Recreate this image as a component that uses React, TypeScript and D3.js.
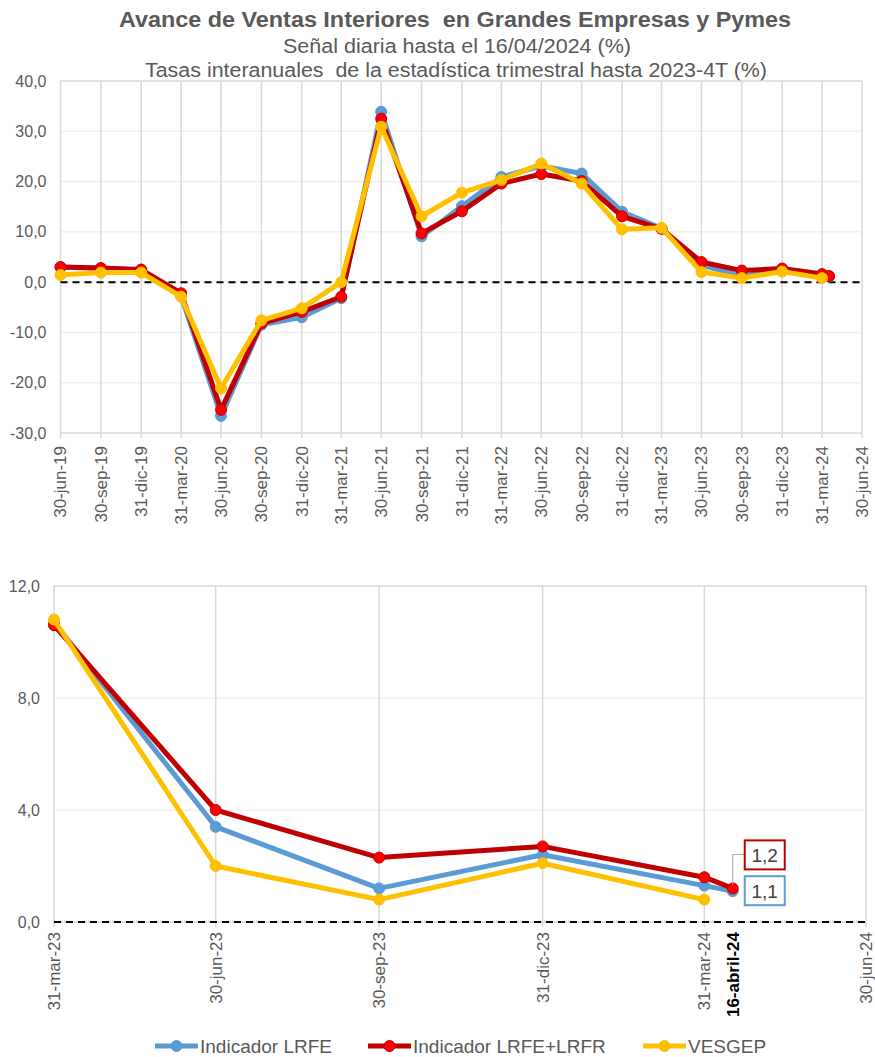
import React, { useRef, useEffect } from "react";
import * as d3 from "d3";

// fechas de fin de trimestre (eje superior) y señal diaria
const quarterLabels = [
  "30-jun-19", "30-sep-19", "31-dic-19", "31-mar-20", "30-jun-20", "30-sep-20",
  "31-dic-20", "31-mar-21", "30-jun-21", "30-sep-21", "31-dic-21", "31-mar-22",
  "30-jun-22", "30-sep-22", "31-dic-22", "31-mar-23", "30-jun-23", "30-sep-23",
  "31-dic-23", "31-mar-24", "30-jun-24",
];
const dailyLabel = "16-abril-24";
const seriesDates = [...quarterLabels.slice(0, 20), dailyLabel];

const lrfe = [
  3.0, 2.7, 2.4, -2.8, -26.6, -8.5, -7.0, -3.2, 33.9, 9.1, 15.1, 20.9, 23.1,
  21.6, 14.0, 10.7, 3.4, 1.2, 2.4, 1.3, 1.1,
];
const lrfeLrfr = [
  3.0, 2.8, 2.5, -2.2, -25.4, -8.2, -5.9, -2.9, 32.5, 9.7, 14.1, 19.6, 21.5,
  20.1, 13.1, 10.6, 4.0, 2.3, 2.7, 1.6, 1.2,
];
const vesgep = [
  1.4, 1.9, 1.9, -2.9, -21.1, -7.6, -5.2, 0.0, 30.9, 13.1, 17.8, 20.3, 23.6,
  19.6, 10.5, 10.8, 2.0, 0.8, 2.1, 0.8,
];

const topYTicks = [-30, -20, -10, 0, 10, 20, 30, 40];
const bottomYTicks = [0, 4, 8, 12];
const bottomTickLabels = [
  "31-mar-23", "30-jun-23", "30-sep-23", "31-dic-23", "31-mar-24", dailyLabel, "30-jun-24",
];

const seriesNames = ["Indicador LRFE", "Indicador LRFE+LRFR", "VESGEP"];

const months: Record<string, number> = {
  ene: 0, feb: 1, mar: 2, abr: 3, abril: 3, may: 4, jun: 5,
  jul: 6, ago: 7, sep: 8, oct: 9, nov: 10, dic: 11,
};
const parseDay = (s: string) => {
  const [d, m, y] = s.split("-");
  return new Date(2000 + +y, months[m], +d);
};
const fmt = (v: number) => v.toFixed(1).replace(".", ",");

const BLUE = "#5B9BD5";
const RED = "#C00000";
const RED_FILL = "#FF0000";
const YELLOW = "#FFC000";
const GREY_TXT = "#595959";
const FONT = "'Liberation Sans', Arial, sans-serif";

const styles = [
  { values: lrfe, stroke: BLUE, fill: BLUE },
  { values: lrfeLrfr, stroke: RED, fill: RED_FILL },
  { values: vesgep, stroke: YELLOW, fill: YELLOW },
];

const App: React.FC = () => {
  const svgRef = useRef<SVGSVGElement | null>(null);

  useEffect(() => {
    const width = 875;
    const height = 1057;
    const svg = d3.select(svgRef.current).attr("width", width).attr("height", height);
    svg.selectAll("*").remove();
    svg.style("font-family", FONT);

    // ---------- titles ----------
    svg.append("text")
      .attr("x", 455).attr("y", 27)
      .attr("text-anchor", "middle")
      .style("white-space", "pre")
      .style("font-size", "22px").style("font-weight", "bold").style("fill", GREY_TXT)
      .attr("textLength", 672).attr("lengthAdjust", "spacingAndGlyphs")
      .text("Avance de Ventas Interiores  en Grandes Empresas y Pymes");
    svg.append("text")
      .attr("x", 457).attr("y", 53)
      .attr("text-anchor", "middle")
      .style("font-size", "20px").style("fill", GREY_TXT)
      .attr("textLength", 348).attr("lengthAdjust", "spacingAndGlyphs")
      .text("Señal diaria hasta el 16/04/2024 (%)");
    svg.append("text")
      .attr("x", 456).attr("y", 77)
      .attr("text-anchor", "middle")
      .style("white-space", "pre")
      .style("font-size", "20px").style("fill", GREY_TXT)
      .attr("textLength", 622).attr("lengthAdjust", "spacingAndGlyphs")
      .text("Tasas interanuales  de la estadística trimestral hasta 2023-4T (%)");

    // ---------- generic panel ----------
    const drawPanel = (opts: {
      left: number; right: number; top: number; bottom: number;
      xDomain: [Date, Date]; yDomain: [number, number]; yTicks: number[];
      tickLabels: string[]; dates: string[]; offset: number;
      labelGap: number; strokeW: number; r: number;
    }) => {
      const x = d3.scaleTime().domain(opts.xDomain).range([opts.left, opts.right]);
      const y = d3.scaleLinear().domain(opts.yDomain).range([opts.bottom, opts.top]);
      const g = svg.append("g");

      // horizontal grid
      g.selectAll(".hgrid")
        .data(opts.yTicks.filter((t) => t !== opts.yDomain[0] && t !== opts.yDomain[1]))
        .enter().append("line")
        .attr("x1", opts.left).attr("x2", opts.right)
        .attr("y1", (d) => y(d)).attr("y2", (d) => y(d))
        .attr("stroke", "#F0F0F0").attr("stroke-width", 1.5);

      // vertical grid (quarters only)
      const gridLabels = opts.tickLabels.filter((l) => l !== dailyLabel);
      g.selectAll(".vgrid")
        .data(gridLabels)
        .enter().append("line")
        .attr("x1", (d) => x(parseDay(d))).attr("x2", (d) => x(parseDay(d)))
        .attr("y1", opts.top).attr("y2", opts.bottom + 5)
        .attr("stroke", "#D9D9D9").attr("stroke-width", 1.5);

      // border lines
      g.append("line")
        .attr("x1", opts.left).attr("x2", opts.right)
        .attr("y1", opts.top).attr("y2", opts.top)
        .attr("stroke", "#D9D9D9").attr("stroke-width", 1.5);
      g.append("line")
        .attr("x1", opts.left).attr("x2", opts.right)
        .attr("y1", opts.bottom).attr("y2", opts.bottom)
        .attr("stroke", "#D9D9D9").attr("stroke-width", 1.5);

      // y labels
      g.selectAll(".ylab")
        .data(opts.yTicks)
        .enter().append("text")
        .attr("x", opts.left - 14).attr("y", (d) => y(d))
        .attr("dy", "0.35em").attr("text-anchor", "end")
        .style("font-size", "16px").style("fill", GREY_TXT)
        .text((d) => fmt(d));

      // x labels
      g.selectAll(".xlab")
        .data(opts.tickLabels)
        .enter().append("text")
        .attr("transform", (d) => `translate(${x(parseDay(d))},${opts.bottom + opts.labelGap}) rotate(-90)`)
        .attr("dy", "0.35em").attr("text-anchor", "end")
        .style("font-size", "17px")
        .style("font-weight", (d) => (d === dailyLabel ? "bold" : "normal"))
        .style("fill", (d) => (d === dailyLabel ? "#000" : GREY_TXT))
        .text((d) => d);

      // zero line
      g.append("line")
        .attr("x1", opts.left).attr("x2", opts.right)
        .attr("y1", y(0)).attr("y2", y(0))
        .attr("stroke", "#000").attr("stroke-width", 2)
        .attr("stroke-dasharray", "7,5");

      // series
      styles.forEach((s) => {
        const pts = s.values
          .map((v, i) => ({ d: parseDay(opts.dates[i]), v }))
          .slice(opts.offset);
        const line = d3.line<{ d: Date; v: number }>().x((p) => x(p.d)).y((p) => y(p.v));
        g.append("path").datum(pts)
          .attr("fill", "none").attr("stroke", s.stroke)
          .attr("stroke-width", opts.strokeW).attr("stroke-linejoin", "round")
          .attr("d", line);
        g.selectAll(null).data(pts).enter().append("circle")
          .attr("cx", (p) => x(p.d)).attr("cy", (p) => y(p.v))
          .attr("r", opts.r)
          .attr("fill", s.fill).attr("stroke", s.stroke).attr("stroke-width", 1);
      });

      return { x, y };
    };

    drawPanel({
      left: 60.5, right: 862, top: 81, bottom: 433,
      xDomain: [parseDay("30-jun-19"), parseDay("30-jun-24")],
      yDomain: [-30, 40], yTicks: topYTicks,
      tickLabels: quarterLabels, dates: seriesDates, offset: 0,
      labelGap: 13, strokeW: 5, r: 5.5,
    });

    const bottom = drawPanel({
      left: 54, right: 866, top: 586, bottom: 922,
      xDomain: [parseDay("31-mar-23"), parseDay("30-jun-24")],
      yDomain: [0, 12], yTicks: bottomYTicks,
      tickLabels: bottomTickLabels, dates: seriesDates, offset: 15,
      labelGap: 10, strokeW: 5, r: 5.5,
    });

    // ---------- annotations on last daily values ----------
    const last = seriesDates.length - 1;
    const px = bottom.x(parseDay(dailyLabel));
    const redY = bottom.y(lrfeLrfr[last]);
    const blueY = bottom.y(lrfe[last]);
    const boxX = px + 12;
    const boxW = 40;

    svg.append("polyline")
      .attr("points", `${px},${redY - 4} ${px},${redY - 34} ${boxX},${redY - 34}`)
      .attr("fill", "none").attr("stroke", "#A6A6A6").attr("stroke-width", 1);

    const labels = [
      { v: lrfeLrfr[last], yTop: redY - 48, color: RED },
      { v: lrfe[last], yTop: blueY - 15, color: BLUE },
    ];
    labels.forEach((l) => {
      svg.append("rect")
        .attr("x", boxX).attr("y", l.yTop).attr("width", boxW).attr("height", 29)
        .attr("fill", "#fff").attr("stroke", l.color).attr("stroke-width", 2);
      svg.append("text")
        .attr("x", boxX + boxW / 2).attr("y", l.yTop + 15)
        .attr("dy", "0.35em").attr("text-anchor", "middle")
        .style("font-size", "19px").style("fill", "#404040")
        .text(fmt(l.v));
    });

    // ---------- legend ----------
    const legendX = [155, 368, 643];
    seriesNames.forEach((name, i) => {
      const s = styles[i];
      const lx = legendX[i];
      const ly = 1046;
      svg.append("line")
        .attr("x1", lx).attr("x2", lx + 43).attr("y1", ly).attr("y2", ly)
        .attr("stroke", s.stroke).attr("stroke-width", 5);
      svg.append("circle")
        .attr("cx", lx + 21.5).attr("cy", ly).attr("r", 5.5)
        .attr("fill", s.fill).attr("stroke", s.stroke).attr("stroke-width", 1);
      svg.append("text")
        .attr("x", lx + 45).attr("y", ly).attr("dy", "0.36em")
        .style("font-size", "19px").style("fill", GREY_TXT)
        .text(name);
    });
  }, []);

  return (
    <div style={{ position: "absolute", left: 0, top: 0, background: "#fff" }}>
      <svg ref={svgRef}></svg>
    </div>
  );
};

export default App;
